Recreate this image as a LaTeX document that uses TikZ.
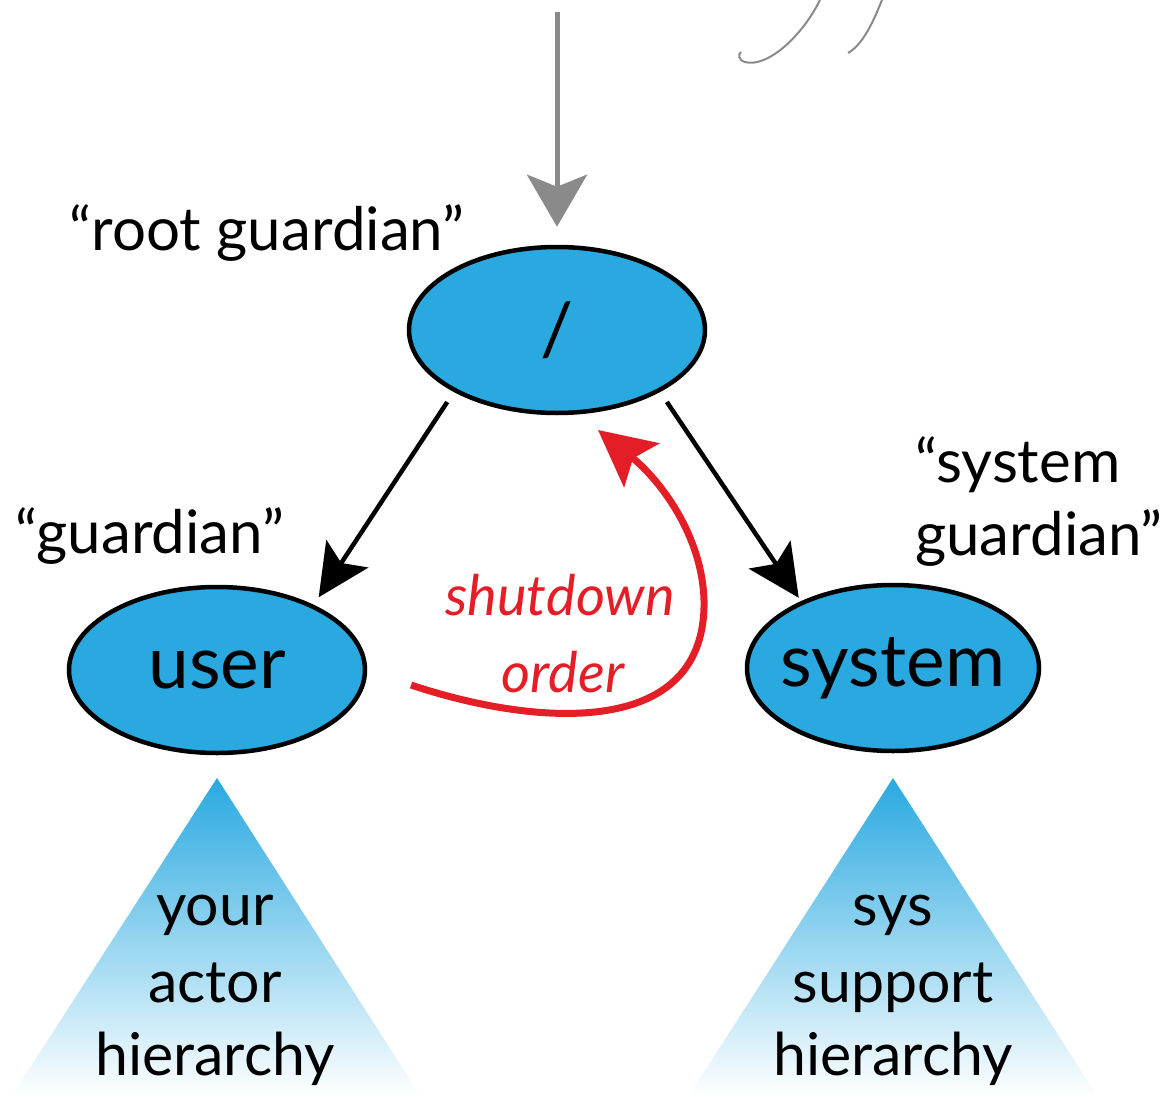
\documentclass[tikz,border=0pt]{standalone}
\usepackage{fontspec}
\setmainfont{Lato}
\usetikzlibrary{shapes.geometric,arrows.meta}
\definecolor{nodeblue}{HTML}{29A9E0}
\definecolor{arrowgray}{HTML}{8A8A8A}
\definecolor{ordred}{HTML}{E41E26}
\newcommand{\zbox}[1]{\makebox[0pt]{#1}}
\tikzset{
  actor/.style={ellipse, draw=black, line width=4.5pt, fill=nodeblue, minimum width=296pt, minimum height=166pt, inner sep=0pt, font=\fontsize{73}{78}\selectfont},
  lbl/.style={font=\fontsize{60}{66}\selectfont, inner sep=0pt, anchor=base},
  trilbl/.style={font=\fontsize{59}{64}\selectfont, inner sep=0pt, anchor=base},
  redlbl/.style={font=\itshape\fontsize{56}{62}\selectfont, text=ordred, inner sep=0pt, anchor=base},
  blackarrow/.style={line width=4.5pt, -{Stealth[length=52pt,width=50pt,inset=11pt]}},
  grayarrow/.style={line width=5pt, draw=arrowgray, -{Stealth[length=52pt,width=60pt,inset=12pt,fill=arrowgray]}},
  redarrow/.style={line width=7pt, draw=ordred, -{Stealth[length=56pt,width=56pt,inset=11pt,fill=ordred]}},
}
\begin{document}
\begin{tikzpicture}[x=1pt,y=-1pt]
\useasboundingbox (0,0) rectangle (1162,1097);
% hierarchy triangles
\shade[top color=nodeblue, bottom color=white] (217,778) -- (421,1097) -- (11,1097) -- cycle;
\shade[top color=nodeblue, bottom color=white] (893,778) -- (1098,1097) -- (688,1097) -- cycle;
\node[trilbl] (t1a) at (215,925) {your};
\node[trilbl] (t1b) at (215,1002) {actor};
\node[trilbl] (t1c) at (215,1075) {hierarchy};
\node[trilbl] (t2a) at (893,925) {sys};
\node[trilbl] (t2b) at (893,1002) {support};
\node[trilbl] (t2c) at (893,1075) {hierarchy};
% fragments of cut-off text at top
\draw[arrowgray, line width=2pt] (820,0) .. controls (800,40) and (765,68) .. (745,62) .. controls (738,60) and (738,54) .. (741,52);
\draw[arrowgray, line width=2pt] (882,0) .. controls (872,25) and (862,45) .. (848,53);
% nodes
\node[actor] (root) at (557,330) {/};
\node[actor] (user) at (217,670) {\zbox{user}};
\node[actor, minimum width=292pt] (system) at (893,668) {\zbox{system}};
% labels
\node[lbl] (lroot) at (267,250) {“root guardian”};
\node[lbl] (luser) at (150,553) {“guardian”};
\node[lbl, anchor=base west] (lsys1) at (915,482) {“system};
\node[lbl, anchor=base west] (lsys2) at (915,555) {guardian”};
% connectors
\coordinate (top) at (557,12);
\draw[grayarrow, shorten >=18pt] (top) -- (root.north);
\draw[blackarrow, shorten <=12pt, shorten >=9pt] (root.211) -- (user.34);
\draw[blackarrow, shorten <=12pt, shorten >=4pt] (root.329) -- (system.144);
% shutdown order
\coordinate (rstart) at (411,685);
\coordinate (rtip) at (598,430);
\draw[redarrow] (rstart) .. controls (540,728) and (707,738) .. (704,600) .. controls (702,535) and (660,480) .. (rtip);
\node[redlbl] (sd1) at (560,615) {shutdown};
\node[redlbl] (sd2) at (563,692) {order};
\end{tikzpicture}
\end{document}
